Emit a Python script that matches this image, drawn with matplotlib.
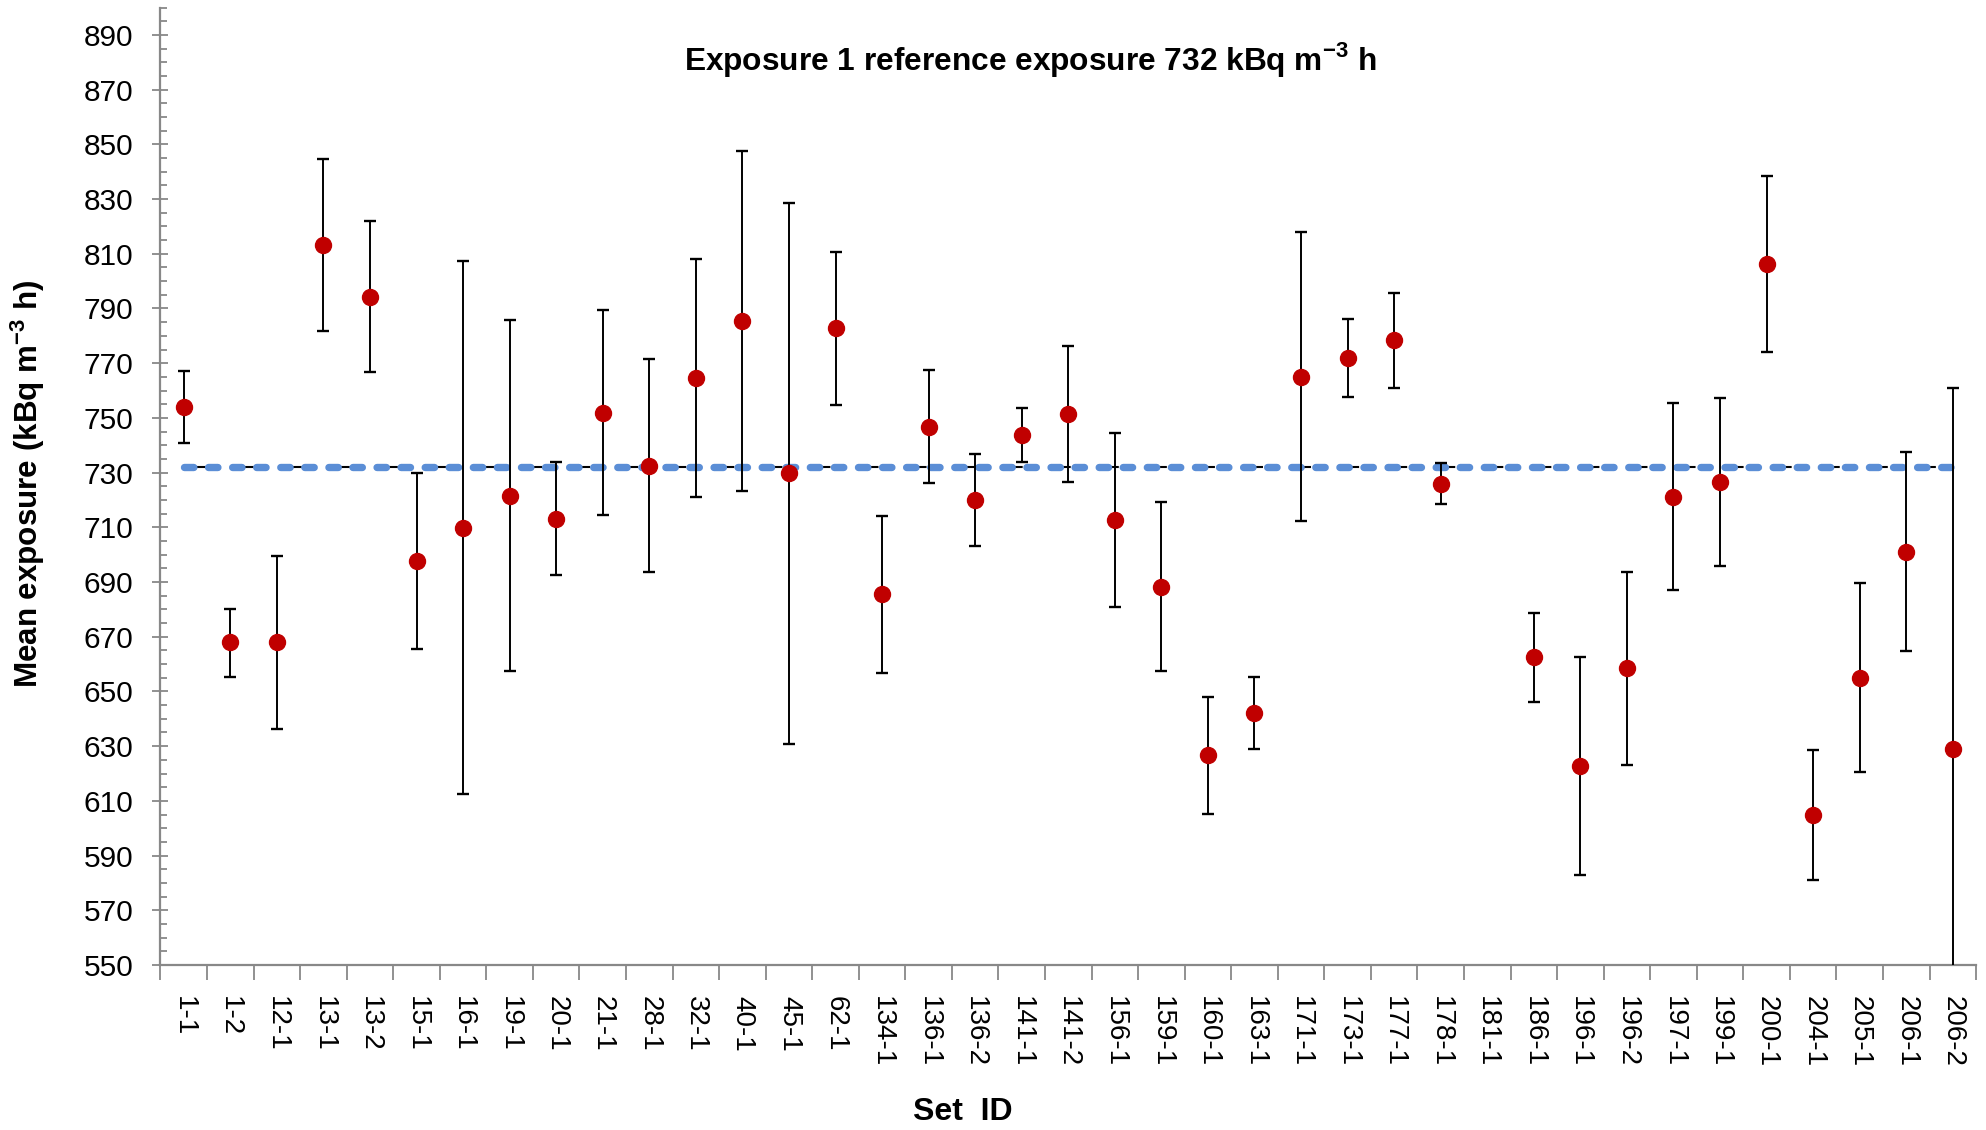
import numpy as np
import matplotlib
matplotlib.use('Agg')
import matplotlib.pyplot as plt
from matplotlib.ticker import MultipleLocator, FixedLocator

plt.rcParams['font.family'] = ['Liberation Sans', 'DejaVu Sans']

set_ids = ['1-1', '1-2', '12-1', '13-1', '13-2', '15-1', '16-1', '19-1', '20-1', '21-1',
           '28-1', '32-1', '40-1', '45-1', '62-1', '134-1', '136-1', '136-2', '141-1', '141-2',
           '156-1', '159-1', '160-1', '163-1', '171-1', '173-1', '177-1', '178-1', '181-1', '186-1',
           '196-1', '196-2', '197-1', '199-1', '200-1', '204-1', '205-1', '206-1', '206-2']

# mean exposure, upper and lower end of error bar (nan = no result)
mean = [753.9, 667.9, 667.9, 813.2, 794.3, 697.7, 709.9, 721.6, 713.1, 751.9,
        732.4, 764.7, 785.5, 729.8, 782.8, 685.5, 746.8, 720.0, 743.8, 751.5,
        712.6, 688.2, 626.6, 642.2, 765.1, 771.8, 778.3, 725.9, np.nan, 662.5,
        622.8, 658.5, 721.2, 726.5, 806.3, 604.9, 654.9, 701.1, 628.9]
upper = [767.3, 680.2, 699.5, 844.7, 822.0, 729.8, 807.4, 785.8, 733.9, 789.5,
         771.4, 808.2, 847.6, 828.7, 810.6, 714.2, 767.4, 736.8, 753.8, 776.3,
         744.4, 719.2, 648.0, 655.2, 818.1, 786.2, 795.6, 733.4, np.nan, 678.6,
         662.6, 693.7, 755.4, 757.2, 838.3, 628.5, 689.5, 737.4, 760.8]
lower = [740.7, 655.4, 636.3, 781.8, 766.9, 665.7, 612.4, 657.3, 692.4, 714.4,
         693.5, 721.2, 723.2, 630.8, 754.9, 656.7, 726.2, 703.3, 734.0, 726.6,
         680.8, 657.4, 605.2, 628.9, 712.3, 757.6, 760.8, 718.4, np.nan, 646.3,
         582.9, 623.3, 687.0, 695.9, 774.2, 581.1, 620.5, 664.7, 540.0]

reference = 732

x = np.arange(len(set_ids))
mean = np.array(mean)
yerr = np.array([mean - np.array(lower), np.array(upper) - mean])

fig = plt.figure(figsize=(19.86, 11.30), dpi=100)
ax = fig.add_axes([0.0808, 0.146, 0.9142, 0.8473])

# reference line: blue dashes with a black line showing through every other gap
ref = np.full(len(x), reference)
ax.plot(x, ref, color='black', lw=1.5, linestyle=(17.4, (4.7, 18.37)), zorder=1)
ax.plot(x, ref, color='#5B8ED6', lw=5.3, dashes=(1.27, 2.0),
        dash_capstyle='round', zorder=2)

ax.errorbar(x, mean, yerr=yerr, fmt='o', color='#C00000', ms=11.5,
            ecolor='black', elinewidth=1.4, capsize=4.5, capthick=1.7, zorder=3)

ax.set_xlim(-0.5, len(x) - 0.5)
ax.set_ylim(550, 900)

ax.yaxis.set_major_locator(FixedLocator(np.arange(550, 891, 20)))
ax.yaxis.set_minor_locator(MultipleLocator(5))
ax.tick_params(axis='y', which='major', direction='inout', length=11, width=1.3,
               color='#888888', labelsize=21.5, pad=14)
ax.tick_params(axis='y', which='minor', direction='in', length=5, width=1.3, color='#888888')

ax.set_xticks(x)
ax.set_xticklabels(set_ids, rotation=270, fontsize=20)
ax.xaxis.set_minor_locator(FixedLocator(np.arange(-0.5, len(x), 1)))
ax.tick_params(axis='x', which='major', length=0, pad=22)
ax.tick_params(axis='x', which='minor', direction='out', length=11, width=1.3, color='#888888')

for s in ['top', 'right']:
    ax.spines[s].set_visible(False)
for s in ['left', 'bottom']:
    ax.spines[s].set_color('#888888')
    ax.spines[s].set_linewidth(1.6)

fig.text(0.519, 0.947, 'Exposure 1 reference exposure 732 kBq m$^{\\mathregular{-3}}$ h',
         ha='center', va='center', fontsize=22.8, fontweight='bold')
fig.text(0.014, 0.572, 'Mean exposure (kBq m$^{\\mathregular{-3}}$ h)', rotation=90,
         ha='center', va='center', fontsize=22.6, fontweight='bold')
fig.text(0.485, 0.016, 'Set  ID', ha='center', va='center', fontsize=23, fontweight='bold')

fig.savefig('out.png', dpi=100)
